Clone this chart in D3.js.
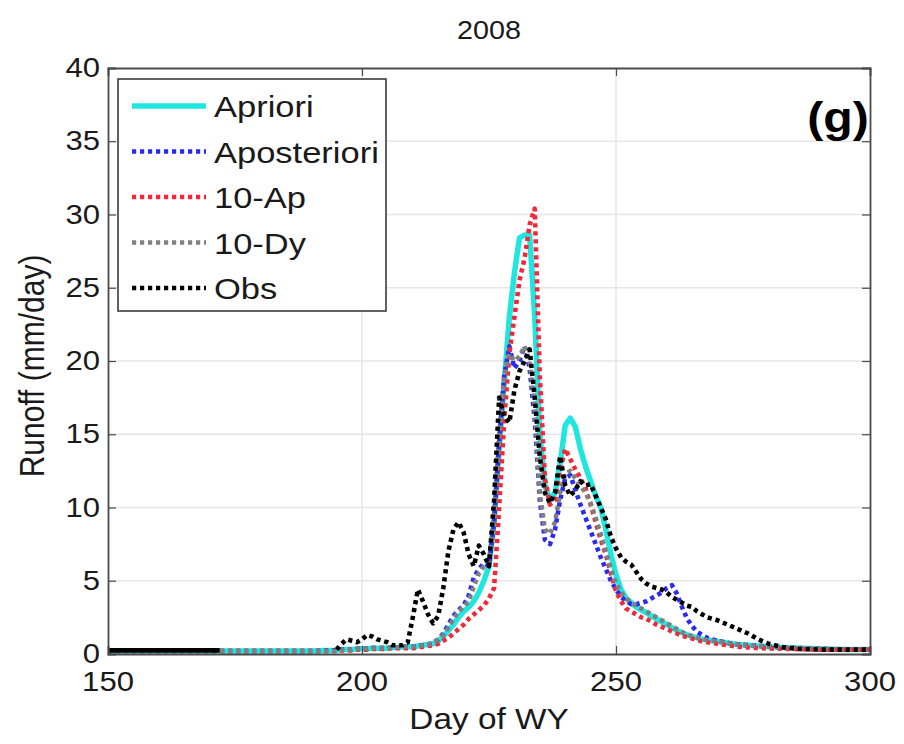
<!DOCTYPE html>
<html><head><meta charset="utf-8">
<script src="https://cdn.jsdelivr.net/npm/d3@7"></script>
<style>body{margin:0;background:#fff}svg{display:block}</style>
</head><body>
<script>
// ---- data ----
const days = [150,155,160,165,170,172,175,180,185,190,195,
  196,197,198,199,200,201,202,203,204,205,
  206,207,208,209,210,211,212,213,214,215,
  216,217,218,219,220,221,222,223,224,225,
  226,227,228,229,230,231,232,233,234,235,
  236,237,238,239,240,241,242,243,244,245,
  246,247,248,249,250,251,252,253,254,255,
  256,257,258,259,260,261,262,263,264,265,
  266,267,268,269,270,272,274,276,278,280,
  283,286,290,295,300];
const apriori = [0.2,0.2,0.2,0.2,0.2,0.2,0.2,0.2,0.2,0.2,0.25,
  0.3,0.3,0.3,0.35,0.35,0.35,0.4,0.4,0.4,0.4,
  0.45,0.45,0.5,0.5,0.5,0.55,0.6,0.65,0.7,0.9,
  1.2,1.6,2.0,2.5,2.9,3.2,3.6,4.2,5.0,6.0,
  9.0,14.0,18.5,23.0,26.0,28.4,28.6,28.6,23.0,15.0,
  11.5,10.5,11.0,13.0,15.6,16.1,15.5,14.0,12.8,11.8,
  10.8,10.0,8.5,6.8,5.4,4.4,3.8,3.5,3.2,3.0,
  2.8,2.6,2.4,2.2,2.0,1.8,1.6,1.45,1.3,1.2,
  1.1,1.0,0.95,0.9,0.85,0.75,0.65,0.6,0.55,0.5,
  0.45,0.4,0.35,0.3,0.3];
const aposteriori = [0.2,0.2,0.2,0.2,0.2,0.2,0.2,0.2,0.2,0.2,0.25,
  0.3,0.3,0.3,0.35,0.35,0.35,0.4,0.4,0.4,0.4,
  0.45,0.45,0.5,0.5,0.5,0.55,0.6,0.65,0.75,1.0,
  1.4,2.0,2.6,3.0,3.3,4.0,5.2,5.8,6.2,6.0,
  9.0,14.5,19.0,21.0,19.5,20.0,21.0,19.5,16.0,10.5,
  7.8,7.5,8.5,10.5,12.0,12.2,11.2,10.2,9.3,8.4,
  7.5,6.6,5.8,5.0,4.4,3.9,3.6,3.4,3.4,3.5,
  3.6,3.8,4.0,4.2,4.5,4.7,4.1,3.2,2.4,1.9,
  1.5,1.3,1.1,1.0,0.9,0.75,0.65,0.6,0.55,0.5,
  0.45,0.4,0.35,0.3,0.3];
const tenAp = [0.2,0.2,0.2,0.2,0.2,0.2,0.2,0.2,0.2,0.2,0.2,
  0.25,0.25,0.25,0.3,0.3,0.3,0.35,0.35,0.35,0.35,
  0.4,0.4,0.4,0.4,0.4,0.45,0.5,0.55,0.6,0.7,
  0.9,1.1,1.4,1.7,2.0,2.4,2.7,3.0,3.3,3.8,
  4.5,10.0,16.0,20.5,23.0,25.5,27.0,29.3,30.4,19.0,
  12.0,10.2,10.5,12.5,14.0,13.3,12.6,12.0,11.3,10.2,
  9.0,7.8,6.8,5.5,4.3,3.6,3.1,2.9,2.7,2.5,
  2.4,2.2,2.0,1.85,1.7,1.55,1.4,1.25,1.15,1.05,
  0.95,0.85,0.8,0.75,0.7,0.6,0.5,0.45,0.4,0.38,
  0.35,0.33,0.3,0.3,0.3];
const tenDy = [0.2,0.2,0.2,0.2,0.2,0.2,0.2,0.2,0.2,0.2,0.2,
  0.3,0.3,0.3,0.35,0.35,0.35,0.4,0.4,0.4,0.4,
  0.45,0.45,0.5,0.5,0.5,0.55,0.6,0.65,0.75,1.0,
  1.3,1.8,2.4,2.9,3.2,3.6,4.6,5.5,6.0,6.2,
  9.5,15.0,19.0,20.5,20.0,20.3,21.0,20.0,17.0,11.0,
  8.5,8.2,9.0,11.0,12.3,12.5,12.0,11.5,11.0,10.3,
  9.3,8.2,7.0,5.8,4.8,4.2,3.8,3.5,3.3,3.1,
  2.9,2.7,2.5,2.3,2.1,1.9,1.7,1.5,1.35,1.2,
  1.1,1.0,0.95,0.9,0.85,0.75,0.65,0.6,0.55,0.5,
  0.45,0.4,0.35,0.3,0.3];
const obs = [0.25,0.25,0.25,0.25,0.25,0.25,null,null,null,null,0.3,
  0.7,1.0,0.9,0.8,1.0,1.3,1.2,1.0,0.9,0.8,
  0.6,0.6,0.6,0.8,2.5,4.4,3.6,2.7,2.1,2.6,
  4.5,7.0,8.5,9.0,8.3,6.8,6.0,7.4,6.8,6.0,
  10.5,17.5,16.2,15.8,18.0,19.3,20.0,20.8,17.5,13.5,
  11.0,10.3,11.0,13.5,11.5,10.8,11.2,11.8,11.5,11.6,
  10.8,10.0,9.2,8.0,7.2,6.6,6.3,6.1,5.6,5.1,
  4.8,4.6,4.5,4.4,4.2,3.9,3.7,3.5,3.3,3.2,
  2.9,2.7,2.5,2.4,2.3,2.0,1.7,1.4,1.0,0.7,
  0.45,0.35,0.3,0.3,0.3];
const seriesNames = ["Apriori","Aposteriori","10-Ap","10-Dy","Obs"];
const seriesValues = [apriori, aposteriori, tenAp, tenDy, obs];
const seriesColors = ["#1fe6df","#2a2af0","#f0283a","#808080","#000000"];
const xTicks = [150,200,250,300];
const yTicks = [0,5,10,15,20,25,30,35,40];
const titleText = "2008";
const panelLabel = "(g)";
const xLabel = "Day of WY";
const yLabel = "Runoff (mm/day)";

// ---- layout ----
const W = 904, H = 744;
const L = 108, R = 870, T = 68, B = 654;
const SX = 1.15;
const FONT = "'Liberation Sans', Arial, Helvetica, sans-serif";
const DASH = "4.2,3.8";

const svg = d3.select("body").append("svg").attr("width", W).attr("height", H)
  .style("font-family", FONT);
svg.append("rect").attr("width", W).attr("height", H).attr("fill", "#fff");

const x = d3.scaleLinear().domain([150,300]).range([L,R]);
const y = d3.scaleLinear().domain([0,40]).range([B,T]);

function txt(px, py, s, o) {
  o = o || {};
  const g = svg.append("g").attr("transform",
    `translate(${px},${py})` + (o.rot ? ` rotate(-90) scale(1,${SX})` : ` scale(${SX},1)`));
  g.append("text").text(s)
    .attr("text-anchor", o.anchor || "middle")
    .attr("font-size", o.size || 28)
    .attr("font-weight", o.weight || "normal")
    .attr("fill", o.fill || "#1a1a1a");
  return g;
}

// grid
const grid = svg.append("g").attr("stroke", "#e6e6e6").attr("stroke-width", 1.5);
xTicks.filter(d => d > 150 && d < 300).forEach(d =>
  grid.append("line").attr("x1", x(d)).attr("x2", x(d)).attr("y1", T).attr("y2", B));
yTicks.filter(d => d > 0 && d < 40).forEach(d =>
  grid.append("line").attr("x1", L).attr("x2", R).attr("y1", y(d)).attr("y2", y(d)));

// series (split at missing values into segments)
const line = d3.line().x(d => x(d[0])).y(d => y(d[1]));
const plot = svg.append("g");
seriesValues.forEach((vals, i) => {
  const segs = [];
  let cur = [];
  days.forEach((d, k) => {
    if (vals[k] == null) { if (cur.length) segs.push(cur); cur = []; }
    else cur.push([d, vals[k]]);
  });
  if (cur.length) segs.push(cur);
  segs.forEach((seg, si) => {
    const p = plot.append("path").attr("d", line(seg)).attr("fill", "none")
      .attr("stroke", seriesColors[i]).attr("stroke-linejoin", "round");
    if (i === 0) p.attr("stroke-width", 5.5);
    else if (segs.length > 1 && si === 0) p.attr("stroke-width", 4.6); // dense early obs looks solid
    else p.attr("stroke-width", 4.6).attr("stroke-dasharray", DASH);
  });
});

// axes box with inner ticks
const axG = svg.append("g");
const xAxB = d3.axisBottom(x).tickValues(xTicks).tickSize(-8).tickFormat("");
const xAxT = d3.axisTop(x).tickValues(xTicks).tickSize(-8).tickFormat("");
const yAxL = d3.axisLeft(y).tickValues(yTicks).tickSize(-8).tickFormat("");
const yAxR = d3.axisRight(y).tickValues(yTicks).tickSize(-8).tickFormat("");
axG.append("g").attr("transform", `translate(0,${B})`).call(xAxB);
axG.append("g").attr("transform", `translate(0,${T})`).call(xAxT);
axG.append("g").attr("transform", `translate(${L},0)`).call(yAxL);
axG.append("g").attr("transform", `translate(${R},0)`).call(yAxR);
axG.selectAll("path.domain").attr("stroke", "#4a4a4a").attr("stroke-width", 1.8);
axG.selectAll(".tick line").attr("stroke", "#4a4a4a").attr("stroke-width", 1.2);

// tick labels
xTicks.forEach(d => txt(x(d), B + 37, String(d), {size: 27}));
yTicks.forEach(d => txt(L - 8, y(d) + 9, String(d), {size: 27, anchor: "end"}));

// titles
txt((L + R) / 2, 39, titleText, {size: 25});
txt((L + R) / 2, 729, xLabel, {size: 29});
txt(44, 366, yLabel, {size: 30, rot: true});
txt(838, 132, panelLabel, {size: 42, weight: "bold", fill: "#000"});

// legend
const lg = svg.append("g");
lg.append("rect").attr("x", 118).attr("y", 79).attr("width", 268).attr("height", 232)
  .attr("fill", "#fff").attr("stroke", "#3a3a3a").attr("stroke-width", 1.6);
seriesNames.forEach((n, i) => {
  const yy = 106 + i * 45.5;
  const l = lg.append("line").attr("x1", 132).attr("x2", 206).attr("y1", yy).attr("y2", yy)
    .attr("stroke", seriesColors[i]);
  if (i === 0) l.attr("stroke-width", 5.5);
  else l.attr("stroke-width", 4.6).attr("stroke-dasharray", DASH);
  txt(214, yy + 11, n, {size: 30, anchor: "start"});
});
</script>
</body></html>
